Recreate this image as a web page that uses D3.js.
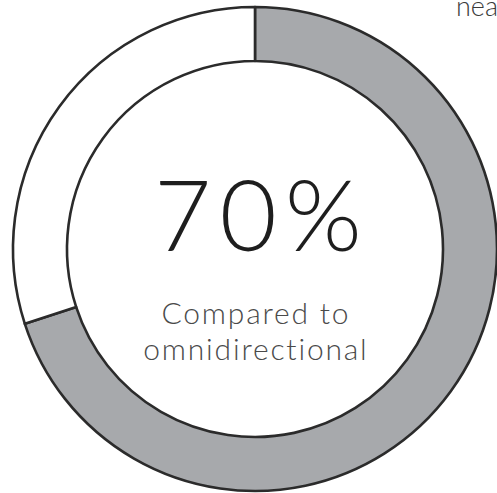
<!DOCTYPE html>
<html>
<head>
<meta charset="utf-8">
<script src="https://cdn.jsdelivr.net/npm/d3@7"></script>
<style>
  html, body { margin: 0; padding: 0; background: #fff; overflow: hidden; }
  svg { display: block; }
</style>
</head>
<body>
<svg id="chart" width="497" height="493"></svg>
<script>
// Share of directional output compared to omnidirectional
const categories = ["Directional", "Remainder"];
const values = [70, 30];
const colors = ["#a7a9ac", "#ffffff"];
const headline = "70%";
const captionLines = ["Compared to", "omnidirectional"];
const cornerText = "nea";

const svg = d3.select("#chart");
const cx = 255, cy = 249, rOuter = 242, rInner = 188;

const g = svg.append("g").attr("transform", `translate(${cx},${cy})`);

const pie = d3.pie().sort(null).value(d => d.value);
const arc = d3.arc().innerRadius(rInner).outerRadius(rOuter);

const data = categories.map((c, i) => ({ name: c, value: values[i], color: colors[i] }));

g.selectAll("path.slice")
  .data(pie(data))
  .join("path")
  .attr("class", "slice")
  .attr("d", arc)
  .attr("fill", d => d.data.color)
  .attr("stroke", "#2b2b2b")
  .attr("stroke-width", 2.6)
  .attr("stroke-linejoin", "round");

// letter-spacing also trails the last glyph, so shift by half of it to keep centred
const headSpacing = 8;
g.append("text")
  .attr("text-anchor", "middle")
  .attr("x", 3 + headSpacing / 2)
  .attr("y", 2)
  .attr("font-family", "Lato, 'Open Sans', sans-serif")
  .attr("font-weight", 300)
  .attr("font-size", 99)
  .attr("letter-spacing", headSpacing)
  .attr("fill", "#1e1e1e")
  .text(headline);

const capSpacing = 1.8;
g.selectAll("text.caption")
  .data(captionLines)
  .join("text")
  .attr("class", "caption")
  .attr("text-anchor", "middle")
  .attr("x", capSpacing / 2)
  .attr("y", (d, i) => 75 + i * 36)
  .attr("font-family", "Lato, 'Open Sans', sans-serif")
  .attr("font-weight", 300)
  .attr("font-size", 30)
  .attr("letter-spacing", capSpacing)
  .attr("fill", "#4a4a4a")
  .text(d => d);

svg.append("text")
  .attr("x", 456)
  .attr("y", 16)
  .attr("font-family", "Lato, 'Open Sans', sans-serif")
  .attr("font-weight", 300)
  .attr("font-size", 27)
  .attr("fill", "#3a3a3a")
  .text(cornerText);
</script>
</body>
</html>
